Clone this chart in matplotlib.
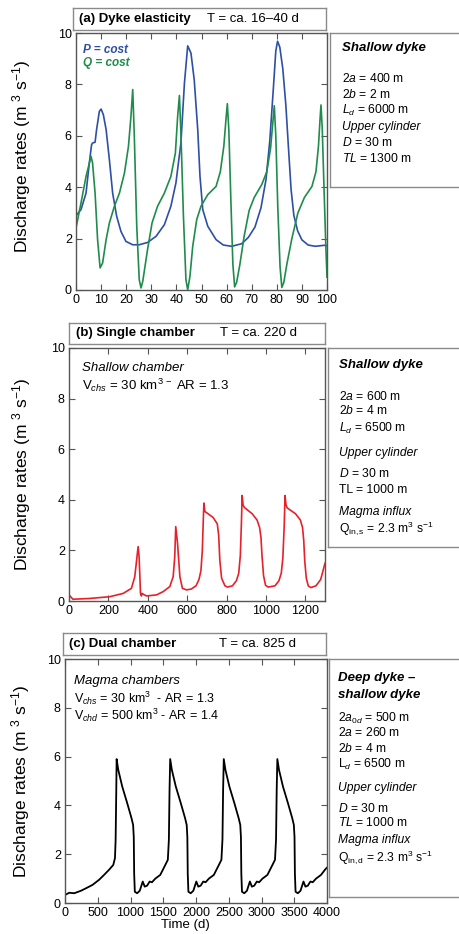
import matplotlib
matplotlib.use("Agg")
import matplotlib.pyplot as plt

plt.rcParams['font.family'] = ['Liberation Sans', 'DejaVu Sans']
plt.rcParams['mathtext.fontset'] = 'custom'
plt.rcParams['mathtext.rm'] = 'Liberation Sans'
plt.rcParams['mathtext.it'] = 'Liberation Sans:italic'
plt.rcParams['mathtext.bf'] = 'Liberation Sans:bold'

# === (a) Dyke elasticity : P = cost (blue) ===
t_p = [0, 2, 4, 5.3, 6.2, 6.6, 7.6, 8.2, 9.3, 10, 10.9, 12, 13.3, 14.6, 16.2, 17.9,
       19.9, 22.6, 25.2, 28.5, 31.9, 35.2, 37.8, 39.8, 41.8, 43.2, 44.5, 45.8,
       47.1, 48.5, 49.4, 50.5, 52.5, 55.8, 58.7, 62, 66, 68.7, 71.3, 73.7, 75.7,
       77.2, 78.6, 79.6, 80.3, 81.2, 82.4, 83.6, 84.7, 85.7, 86.8, 88.3, 90, 92.5,
       95.3, 99, 100]
q_p = [2.89, 3.13, 3.77, 4.94, 5.65, 5.72, 5.75, 6.24, 6.95, 7.04, 6.82, 6.24, 5.07,
       3.77, 2.87, 2.28, 1.89, 1.76, 1.76, 1.85, 2.09, 2.54, 3.26, 4.16, 5.72, 8.05,
       9.5, 9.22, 8.18, 6.24, 4.42, 3.13, 2.48, 1.96, 1.75, 1.7, 1.8, 2.05, 2.45,
       3.2, 4.3, 5.8, 7.8, 9.3, 9.68, 9.45, 8.6, 7.2, 5.45, 3.9, 2.9, 2.3, 1.95,
       1.75, 1.7, 1.74, 1.72]

# === (a) Dyke elasticity : Q = cost (green) ===
t_q = [0, 2, 4, 6, 6.6, 7.6, 8.6, 9.6, 10.6, 12, 13.3, 15.3, 17.3, 19.3, 20.9, 21.9,
       22.6, 23.2, 24.2, 25.2, 25.9, 26.6, 28.5, 30.3, 32.5, 35.2, 37.8, 39.6,
       40.5, 41.2, 41.8, 42.8, 43.8, 44.5, 45.4, 46.5, 48.1, 49.8, 52.5, 55.8,
       57.5, 58.9, 59.8, 60.3, 60.9, 61.7, 62.5, 63.2, 64, 65.3, 67, 69, 71, 74,
       76, 77.5, 78.4, 79, 79.6, 80.4, 81.3, 82, 82.8, 84, 86, 88.4, 91, 94, 95.6,
       96.6, 97.2, 97.6, 98.1, 98.8, 99.5, 100]
q_q = [2.41, 3.39, 4.42, 5.2, 4.94, 3.77, 1.96, 0.86, 1.05, 1.96, 2.61, 3.26, 3.77,
       4.55, 5.59, 6.76, 7.8, 6.1, 2.48, 0.4, 0.08, 0.34, 1.57, 2.61, 3.26, 3.77,
       4.42, 5.33, 6.76, 7.57, 6.1, 2.87, 0.4, 0.01, 0.53, 1.7, 2.74, 3.26, 3.71,
       4.03, 4.6, 5.6, 6.7, 7.25, 6.2, 3.5, 1.0, 0.12, 0.3, 1.0, 2.1, 3.1, 3.6,
       4.1, 4.6, 5.5, 6.5, 7.17, 6.0, 3.2, 0.9, 0.1, 0.3, 1.0, 2.0, 3.0, 3.6, 4.03,
       4.6, 5.6, 6.6, 7.2, 6.3, 4.0, 1.8, 0.5]

# === (b) Single chamber ===
t_b = [0, 20, 105, 207, 275, 317, 334, 351, 356, 363, 368, 370, 393, 444, 478,
       512, 529, 537, 542, 551, 563, 576, 597, 620, 645, 660, 670, 677, 682, 685,
       690, 732, 753, 760, 766, 775, 792, 805, 830, 850, 862, 870, 876, 879, 884,
       890, 930, 955, 968, 975, 980, 988, 998, 1012, 1046, 1066, 1078, 1086, 1093,
       1097, 1102, 1108, 1150, 1175, 1186, 1192, 1197, 1205, 1215, 1228, 1254,
       1278, 1300]
q_b = [0.24, 0.07, 0.1, 0.17, 0.3, 0.5, 0.96, 2.15, 1.75, 0.3, 0.2, 0.3, 0.2, 0.24,
       0.37, 0.57, 0.96, 1.75, 2.94, 2.3, 0.96, 0.5, 0.44, 0.47, 0.6, 0.85, 1.2,
       2.0, 3.2, 3.87, 3.54, 3.3, 3.05, 2.6, 1.6, 0.9, 0.6, 0.55, 0.6, 0.8, 1.1,
       1.8, 3.2, 4.17, 3.8, 3.7, 3.45, 3.2, 2.9, 2.5, 1.8, 1.0, 0.62, 0.55, 0.6,
       0.8, 1.1, 1.7, 3.0, 4.17, 3.8, 3.68, 3.45, 3.2, 2.9, 2.4, 1.6, 0.9, 0.6,
       0.53, 0.6, 0.85, 1.49]

# === (c) Dual chamber ===
t_c = [0, 66, 141, 242, 318, 419, 520, 596, 672, 737, 763, 773, 783, 788,
       813, 874, 949, 1015, 1040, 1050, 1056, 1066, 1101, 1141, 1187, 1217, 1253,
       1293, 1328, 1379, 1454, 1520, 1570, 1586, 1596, 1606,
       1631, 1692, 1767, 1833, 1858, 1868, 1874, 1884, 1919, 1959, 2005, 2035, 2071,
       2111, 2146, 2197, 2272, 2338, 2388, 2404, 2414, 2424,
       2449, 2510, 2585, 2651, 2676, 2686, 2692, 2702, 2737, 2777, 2823, 2853, 2889,
       2929, 2964, 3015, 3090, 3156, 3206, 3222, 3232, 3242,
       3267, 3328, 3403, 3469, 3494, 3504, 3510, 3520, 3555, 3595, 3641, 3671, 3707,
       3747, 3782, 3833, 3908, 3974, 4000]
q_c = [0.33, 0.42, 0.4, 0.5, 0.6, 0.74, 0.95, 1.15, 1.36, 1.56, 1.84, 2.6, 4.64, 5.9,
       5.46, 4.77, 4.1, 3.48, 3.2, 2.7, 1.2, 0.46, 0.4, 0.5, 0.88, 0.67, 0.71,
       0.88, 0.85, 1.0, 1.15, 1.5, 1.77, 2.6, 4.64, 5.9,
       5.46, 4.77, 4.1, 3.48, 3.2, 2.7, 1.2, 0.46, 0.4, 0.5, 0.88, 0.67, 0.71,
       0.88, 0.85, 1.0, 1.15, 1.5, 1.77, 2.6, 4.64, 5.9,
       5.46, 4.77, 4.1, 3.48, 3.2, 2.7, 1.2, 0.46, 0.4, 0.5, 0.88, 0.67, 0.71,
       0.88, 0.85, 1.0, 1.15, 1.5, 1.77, 2.6, 4.64, 5.9,
       5.46, 4.77, 4.1, 3.48, 3.2, 2.7, 1.2, 0.46, 0.4, 0.5, 0.88, 0.67, 0.71,
       0.88, 0.85, 1.0, 1.15, 1.38, 1.45]

W, H = 459, 934
fig = plt.figure(figsize=(W / 100, H / 100), dpi=100)


def box(l, t, r, b):
    return [l / W, 1 - b / H, (r - l) / W, (b - t) / H]


def px(x, y):
    return x / W, 1 - y / H


frame = '#555555'
grey = '#8a8a8a'
blue = '#2e4fa6'
green = '#1f8c4c'

ax_a = fig.add_axes(box(76, 33, 327, 290))
ax_a.plot(t_p, q_p, color=blue, lw=1.2)
ax_a.plot(t_q, q_q, color=green, lw=1.2)
ax_b = fig.add_axes(box(69, 348, 325, 601))
ax_b.plot(t_b, q_b, color='#e8202a', lw=1.2)
ax_c = fig.add_axes(box(65, 659, 327, 903))
ax_c.plot(t_c, q_c, color='black', lw=1.3)

ylab = 'Discharge rates (m $^{3}$ s$^{-1}$)'
for ax, xl, xt, lx, ly in [(ax_a, 100, range(0, 101, 10), -0.171, 0.52),
                           (ax_b, 1300, range(0, 1201, 200), -0.141, 0.5),
                           (ax_c, 4000, range(0, 4001, 500), -0.126, 0.5)]:
    ax.set_xlim(0, xl)
    ax.set_ylim(0, 10)
    ax.set_xticks(list(xt))
    ax.set_yticks(range(0, 11, 2))
    ax.tick_params(direction='in', top=True, right=True, length=4, width=0.8,
                   color=frame, labelsize=9, pad=3)
    for s in ax.spines.values():
        s.set_color(frame)
        s.set_linewidth(1.0)
    ax.set_ylabel(ylab, fontsize=12.5)
    ax.yaxis.set_label_coords(lx, ly)

fig.text(*px(185, 925), 'Time (d)', fontsize=9.5, ha='center', va='center')

fig.text(*px(83, 50), 'P = cost', color=blue, fontsize=8.5,
         fontweight='bold', style='italic', va='center')
fig.text(*px(83, 63), 'Q = cost', color=green, fontsize=8.5,
         fontweight='bold', style='italic', va='center')

fig.text(*px(82, 368), 'Shallow chamber', fontsize=9.5, style='italic', va='center')
fig.text(*px(82, 385), r'V$_{\mathit{chs}}$ = 30 km$^{3\,-}$ AR = 1.3', fontsize=9.5, va='center')

fig.text(*px(74, 681), 'Magma chambers', fontsize=9.5, style='italic', va='center')
fig.text(*px(74, 698), r'V$_{\mathit{chs}}$ = 30 km$^{3}$  - AR = 1.3', fontsize=9, va='center')
fig.text(*px(74, 715), r'V$_{\mathit{chd}}$ = 500 km$^{3}$ - AR = 1.4', fontsize=9, va='center')


def textbox(rect):
    ax = fig.add_axes(box(*rect))
    ax.set_xticks([])
    ax.set_yticks([])
    for s in ax.spines.values():
        s.set_color(grey)
        s.set_linewidth(1.0)
    return ax


# ---- title boxes
for rect, lab, per, xl, xr in [((73, 8, 326, 30), '(a) Dyke elasticity', 'T = ca. 16–40 d', 79, 207),
                               ((69, 323, 325, 344), '(b) Single chamber', 'T = ca. 220 d', 76, 220),
                               ((63, 633, 326, 655), '(c) Dual chamber', 'T = ca. 825 d', 69, 219)]:
    textbox(rect)
    yc = (rect[1] + rect[3]) / 2
    fig.text(*px(xl, yc), lab, fontsize=9.5, fontweight='bold', va='center')
    fig.text(*px(xr, yc), per, fontsize=9.5, va='center')

# ---- parameter boxes
textbox((330, 33, 470, 187))
textbox((328, 348, 470, 547))
textbox((329, 659, 470, 897))

bold_it = dict(fontsize=9.5, fontweight='bold', style='italic', va='center')
norm = dict(fontsize=8.7, va='center')
ital = dict(fontsize=8.7, style='italic', va='center')

fig.text(*px(342, 48), 'Shallow dyke', **bold_it)
fig.text(*px(342, 78), r'$\mathit{2a}$ = 400 m', **norm)
fig.text(*px(342, 94), r'$\mathit{2b}$ = 2 m', **norm)
fig.text(*px(342, 110), r'$\mathit{L_d}$ = 6000 m', **norm)
fig.text(*px(342, 127), 'Upper cylinder', **ital)
fig.text(*px(342, 143), r'$\mathit{D}$ = 30 m', **norm)
fig.text(*px(342, 158), r'$\mathit{TL}$ = 1300 m', **norm)

fig.text(*px(339, 365), 'Shallow dyke', **bold_it)
fig.text(*px(339, 396), r'$\mathit{2a}$ = 600 m', **norm)
fig.text(*px(339, 411), r'$\mathit{2b}$ = 4 m', **norm)
fig.text(*px(339, 428), r'$\mathit{L_d}$ = 6500 m', **norm)
fig.text(*px(339, 453), 'Upper cylinder', **ital)
fig.text(*px(339, 473), r'$\mathit{D}$ = 30 m', **norm)
fig.text(*px(339, 490), 'TL = 1000 m', **norm)
fig.text(*px(339, 512), 'Magma influx', **ital)
fig.text(*px(339, 528), r'Q$_{\rm in,s}$ = 2.3 m$^{3}$ s$^{-1}$', **norm)

fig.text(*px(338, 678), 'Deep dyke –', **bold_it)
fig.text(*px(338, 695), 'shallow dyke', **bold_it)
fig.text(*px(338, 718), r'$\mathit{2a_{0d}}$ = 500 m', **norm)
fig.text(*px(338, 733), r'$\mathit{2a}$ = 260 m', **norm)
fig.text(*px(338, 748), r'$\mathit{2b}$ = 4 m', **norm)
fig.text(*px(338, 764), r'L$_{\mathit{d}}$ = 6500 m', **norm)
fig.text(*px(338, 788), 'Upper cylinder', **ital)
fig.text(*px(338, 808), r'$\mathit{D}$ = 30 m', **norm)
fig.text(*px(338, 823), r'$\mathit{TL}$ = 1000 m', **norm)
fig.text(*px(338, 840), 'Magma influx', **ital)
fig.text(*px(338, 857), r'Q$_{\rm in,d}$ = 2.3 m$^{3}$ s$^{-1}$', **norm)

fig.savefig('out.png', dpi=100)
